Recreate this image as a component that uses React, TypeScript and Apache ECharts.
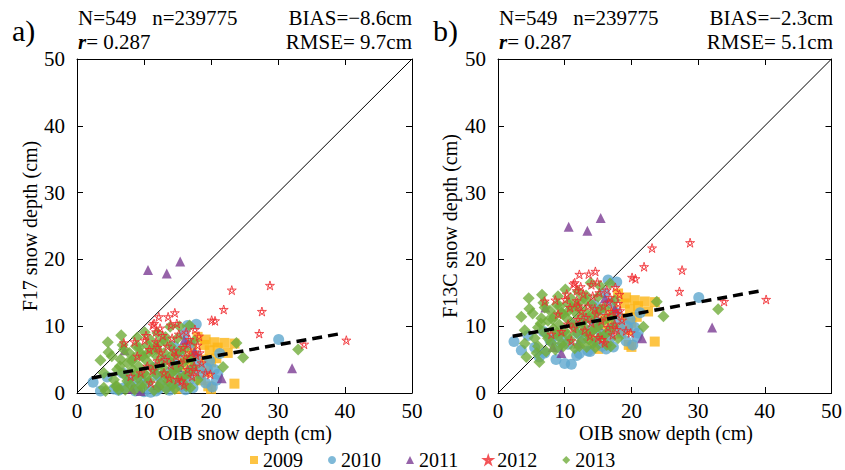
import React, { useEffect, useRef } from "react";
import * as echarts from "echarts";

// ---- data: OIB snow depth (x) vs F17 (panel a) and F13C (panel b) ----
const years = ["2009", "2010", "2011", "2012", "2013"];

const x2009 = [18.0, 19.2, 20.5, 22.0, 23.5, 19.8, 20.0, 19.5, 23.5, 20.0, 15.0, 16.5, 18.5, 17.5, 18.8, 16.8, 19.0, 21.0, 17.2, 15.8, 14.5, 18.2, 20.8, 16.0, 22.5, 19.6];
const f17_2009 = [8.4, 8.0, 7.6, 7.5, 7.4, 6.4, 4.6, 3.2, 1.4, 0.6, 0.6, 2.4, 1.9, 5.5, 5.0, 4.0, 7.2, 6.8, 6.5, 3.0, 1.5, 3.6, 5.2, 5.0, 6.0, 1.0];
const f13c_2009 = [14.9, 14.3, 13.9, 13.7, 13.6, 12.5, 10.5, 9.4, 7.7, 6.9, 6.6, 8.6, 8.9, 11.8, 11.2, 10.4, 13.4, 13.0, 12.6, 9.2, 7.8, 9.8, 11.4, 11.1, 12.2, 7.2];

const x2010 = [2.4, 17.8, 16.5, 21.3, 20.8, 17.3, 30.1, 19.4, 6.2, 8.7, 10.0, 11.0, 12.2, 13.5, 14.8, 16.2, 15.5, 14.0, 12.8, 18.5, 19.8, 17.0, 4.5, 6.8, 7.8, 9.5, 11.5, 13.2, 15.2, 16.8, 14.5, 21.0, 20.2, 5.5, 3.5, 9.0, 10.5, 12.0, 13.8, 15.6, 16.8, 18.0, 19.2, 14.5, 7.0, 17.8, 20.5, 11.8, 8.0, 16.0];
const f17_2010 = [1.6, 10.3, 10.1, 5.9, 1.9, 0.8, 8.0, 3.7, 0.4, 0.3, 0.2, 0.1, 0.6, 0.9, 1.5, 0.5, 2.6, 3.2, 2.0, 2.8, 4.8, 3.4, 2.4, 3.0, 1.6, 2.2, 3.8, 5.0, 6.0, 7.4, 7.0, 2.8, 0.9, 0.6, 0.3, 1.0, 1.5, 2.6, 0.4, 1.0, 2.0, 4.2, 1.5, 4.5, 0.8, 5.6, 3.5, 0.3, 2.5, 8.8];
const f13c_2010 = [7.7, 16.6, 16.9, 12.0, 8.4, 6.9, 14.3, 10.0, 5.4, 5.0, 4.4, 4.3, 5.9, 6.3, 7.6, 6.6, 8.8, 9.5, 8.2, 9.1, 11.0, 9.7, 8.6, 9.2, 7.9, 8.4, 10.2, 11.2, 12.4, 13.5, 13.2, 9.0, 7.2, 6.8, 6.4, 6.8, 7.3, 8.9, 6.2, 7.0, 8.2, 10.5, 7.8, 10.8, 6.0, 12.0, 9.8, 5.6, 8.0, 15.0];

const x2011 = [10.6, 13.4, 15.4, 32.1, 7.1, 21.6, 8.2, 9.5, 16.0, 15.0, 12.0, 17.5];
const f17_2011 = [18.4, 17.9, 19.7, 3.7, 6.4, 2.2, 0.6, 0.3, 7.9, 3.9, 1.2, 6.2];
const f13c_2011 = [24.9, 24.3, 26.2, 9.8, 12.8, 8.2, 6.9, 6.0, 14.2, 10.2, 7.4, 12.6];

const x2012 = [28.8, 23.1, 21.9, 27.6, 27.2, 20.1, 20.6, 33.9, 40.2, 14.6, 13.6, 12.2, 11.5, 7.0, 8.6, 16.3, 18.2, 19.2, 19.9, 10.1, 11.8, 11.3, 11.8, 14.0, 18.0, 17.8, 9.0, 10.5, 12.5, 13.5, 14.8, 15.5, 16.5, 17.2, 15.0, 13.0, 11.0, 12.0, 14.2, 15.8, 16.8, 17.5, 18.6, 9.5, 8.0, 10.8, 16.0, 14.0, 17.0, 12.8, 12.0, 13.2, 14.5, 15.2, 16.2, 17.8, 18.3, 16.6, 11.3, 13.8, 15.6, 12.4, 10.3, 17.6, 14.9];
const f17_2012 = [16.1, 15.4, 12.5, 12.2, 8.9, 10.9, 10.8, 7.3, 7.9, 12.0, 11.4, 11.4, 10.4, 7.5, 7.65, 9.1, 8.5, 3.0, 2.8, 7.9, 7.65, 10.15, 9.15, 10.15, 7.15, 5.65, 5.5, 4.0, 6.0, 7.0, 5.5, 4.5, 3.5, 2.5, 2.0, 3.0, 1.5, 4.8, 8.2, 6.8, 8.0, 4.0, 4.5, 3.0, 2.5, 6.5, 1.2, 4.2, 6.0, 8.6, 6.8, 5.0, 6.3, 8.8, 5.4, 3.2, 6.0, 7.3, 3.4, 2.2, 1.8, 9.7, 8.6, 9.5, 10.4];
const f13c_2012 = [22.5, 21.7, 18.9, 18.4, 15.2, 17.3, 17.1, 13.7, 14.0, 18.2, 17.8, 17.75, 16.5, 13.75, 13.9, 15.4, 14.75, 9.3, 9.0, 14.0, 13.8, 16.3, 15.3, 16.2, 13.4, 11.9, 11.8, 10.3, 12.2, 13.0, 11.8, 10.8, 9.8, 8.7, 8.3, 9.4, 7.8, 11.0, 14.5, 13.0, 14.3, 10.3, 10.9, 9.2, 8.8, 12.8, 7.5, 10.5, 12.2, 14.8, 13.0, 11.3, 12.6, 15.0, 11.6, 9.5, 12.3, 13.6, 9.7, 8.5, 8.0, 15.9, 14.8, 15.8, 16.6];

const x2013 = [6.6, 4.6, 4.7, 3.5, 4.0, 10.1, 13.9, 15.3, 16.8, 23.8, 24.8, 21.8, 33.0, 4.0, 4.25, 6.2, 5.5, 6.0, 6.5, 7.0, 7.5, 7.8, 8.0, 8.3, 8.5, 8.8, 9.0, 9.2, 9.5, 9.8, 10.0, 10.2, 10.5, 10.8, 11.0, 11.2, 11.5, 11.8, 12.0, 12.3, 12.5, 12.8, 13.0, 13.3, 13.5, 13.8, 14.0, 14.3, 14.5, 14.8, 15.0, 15.3, 15.6, 16.0, 16.3, 16.6, 17.0, 17.5, 18.0, 6.8, 5.2, 9.0, 12.0, 13.2, 7.2, 5.8,
  6.0, 7.0, 7.5, 8.2, 8.6, 9.3, 9.8, 10.4, 10.9, 11.4, 11.7, 12.2, 12.6, 13.1, 13.6, 14.1, 14.6, 15.1, 15.4, 15.9, 16.4, 16.9, 17.3, 8.8, 10.6, 12.9, 14.2, 9.6, 6.4, 11.9];
const f17_2013 = [8.65, 7.6, 6.1, 4.9, 3.0, 9.1, 9.9, 10.0, 10.1, 7.5, 5.3, 3.9, 6.5, 0.8, 0.3, 0.5, 2.0, 3.5, 5.0, 2.8, 4.5, 6.0, 1.2, 3.5, 5.2, 7.0, 2.2, 4.0, 6.0, 0.8, 3.0, 5.0, 7.2, 1.8, 4.2, 6.2, 0.4, 2.8, 5.4, 7.5, 1.5, 3.8, 6.0, 0.6, 2.5, 4.8, 7.0, 1.2, 3.4, 5.8, 8.2, 2.2, 4.3, 6.5, 1.0, 3.0, 5.2, 7.8, 2.0, 7.2, 5.5, 8.3, 9.0, 8.4, 0.5, 1.0,
  1.0, 6.5, 1.8, 4.8, 0.5, 6.8, 5.5, 2.5, 8.0, 3.5, 7.0, 0.9, 4.4, 7.8, 1.8, 5.6, 0.6, 3.8, 6.4, 2.4, 5.0, 0.8, 3.8, 2.8, 6.0, 2.9, 3.0, 1.2, 4.0, 6.6];
const f13c_2013 = [14.7, 14.2, 12.6, 11.4, 9.4, 15.5, 16.5, 16.0, 16.4, 13.65, 11.5, 9.9, 12.55, 7.4, 5.4, 4.65, 8.2, 9.8, 11.2, 9.0, 10.8, 12.3, 7.5, 9.6, 11.5, 13.2, 8.5, 10.2, 12.0, 7.0, 9.3, 11.3, 13.4, 8.0, 10.5, 12.5, 6.7, 9.0, 11.6, 13.7, 7.8, 10.0, 12.2, 6.9, 8.8, 11.1, 13.3, 7.5, 9.6, 12.0, 14.4, 8.4, 10.6, 12.7, 7.2, 9.3, 11.5, 13.9, 8.2, 13.5, 11.9, 14.5, 15.2, 14.6, 6.2, 6.0,
  7.0, 12.8, 8.2, 11.0, 6.5, 13.0, 11.8, 8.7, 14.2, 9.8, 13.2, 7.0, 10.6, 14.0, 8.0, 11.8, 6.8, 10.0, 12.6, 8.6, 11.2, 7.0, 10.0, 9.0, 12.3, 9.2, 9.3, 7.4, 10.4, 12.9];

// fitted regression lines and 1:1 line
const oneToOne = [[0, 0], [50, 50]];
const fitA = [[2.2, 2.25], [39.4, 8.9]];
const fitB = [[2.2, 8.5], [39.4, 15.3]];

const axisTicks = [0, 10, 20, 30, 40, 50];

const statsA = { N: "N=549", n: "n=239775", bias: "BIAS=−8.6cm", r: "0.287", rmse: "RMSE= 9.7cm" };
const statsB = { N: "N=549", n: "n=239775", bias: "BIAS=−2.3cm", r: "0.287", rmse: "RMSE= 5.1cm" };

const FONT = "Liberation Serif";

const STAR = "path://M10 0 L15.88 18.09 L0.49 6.91 L19.51 6.91 L4.12 18.09 Z";

const styles: Record<string, any> = {
  "2009": { symbol: "rect", symbolSize: 10, itemStyle: { color: "#FDB515" } },
  "2010": { symbol: "circle", symbolSize: 11, itemStyle: { color: "#5FA8CE" } },
  "2011": { symbol: "triangle", symbolSize: 10, itemStyle: { color: "#7C3C93" } },
  "2012": { symbol: STAR, symbolSize: 9, itemStyle: { color: "rgba(0,0,0,0)", borderColor: "#F0282D", borderWidth: 1 } },
  "2013": { symbol: "diamond", symbolSize: 12, itemStyle: { color: "#71AC3B" } },
};

const dataA: Record<string, number[][]> = {
  "2009": x2009.map((x, i) => [x, f17_2009[i]]),
  "2010": x2010.map((x, i) => [x, f17_2010[i]]),
  "2011": x2011.map((x, i) => [x, f17_2011[i]]),
  "2012": x2012.map((x, i) => [x, f17_2012[i]]),
  "2013": x2013.map((x, i) => [x, f17_2013[i]]),
};
const dataB: Record<string, number[][]> = {
  "2009": x2009.map((x, i) => [x, f13c_2009[i]]),
  "2010": x2010.map((x, i) => [x, f13c_2010[i]]),
  "2011": x2011.map((x, i) => [x, f13c_2011[i]]),
  "2012": x2012.map((x, i) => [x, f13c_2012[i]]),
  "2013": x2013.map((x, i) => [x, f13c_2013[i]]),
};

const drawOrder = ["2009", "2010", "2011", "2013", "2012"];

function axis(gridIndex: number, position: string, labels: boolean) {
  return {
    type: "value",
    gridIndex,
    position,
    min: axisTicks[0],
    max: axisTicks[axisTicks.length - 1],
    interval: 10,
    axisLine: { show: true, onZero: false, lineStyle: { color: "#000", width: 1 } },
    axisTick: { show: true, inside: true, length: 6, lineStyle: { color: "#000" } },
    axisLabel: {
      show: labels,
      fontFamily: FONT,
      fontSize: 21,
      color: "#000",
      margin: position === "left" ? 12 : 7,
    },
    splitLine: { show: false },
  };
}

function txt(x: number, y: number, text: string, align: string, extra: any = {}) {
  return {
    type: "text", x, y,
    style: { text, fontFamily: FONT, fontSize: 21, lineHeight: 21, fill: "#000", textAlign: align, textVerticalAlign: "middle", ...extra },
  };
}

function header(left: number, right: number, s: any, label: string) {
  return [
    { type: "text", x: left - 66, y: 30, style: { text: label, fontFamily: FONT, fontSize: 30, fill: "#000", textAlign: "left", textVerticalAlign: "middle" } },
    txt(left, 18, s.N + "   " + s.n, "left"),
    txt(right, 18, s.bias, "right"),
    txt(left, 42, "{i|r}= " + s.r, "left", {
      rich: { i: { fontStyle: "italic", fontWeight: "bold", fontFamily: FONT, fontSize: 21, lineHeight: 21 } },
    }),
    txt(right, 42, s.rmse, "right"),
  ];
}

export default function App() {
  const ref = useRef<HTMLDivElement>(null);
  useEffect(() => {
    if (!ref.current) return;
    const chart = echarts.init(ref.current, undefined, { renderer: "svg" });
    const scatter: any[] = [];
    [0, 1].forEach((g) => {
      const src = g === 0 ? dataA : dataB;
      drawOrder.forEach((y) => {
        scatter.push({
          type: "scatter",
          name: y,
          xAxisIndex: g,
          yAxisIndex: g,
          data: src[y],
          ...styles[y],
        });
      });
    });
    const lines: any[] = [];
    [0, 1].forEach((g) => {
      lines.push({
        type: "line", xAxisIndex: g, yAxisIndex: g, data: oneToOne, symbol: "none", silent: true,
        lineStyle: { color: "#000", width: 1 }, z: 1,
      });
      lines.push({
        type: "line", xAxisIndex: g, yAxisIndex: g, data: g === 0 ? fitA : fitB, symbol: "none", silent: true,
        lineStyle: { color: "#000", width: 3.5, type: [10, 6] }, z: 5,
      });
    });
    chart.setOption({
      animation: false,
      backgroundColor: "#fff",
      grid: [
        { left: 77, top: 59, width: 335, height: 334 },
        { left: 498, top: 59, width: 335, height: 334 },
      ],
      xAxis: [axis(0, "bottom", true), axis(1, "bottom", true), axis(0, "top", false), axis(1, "top", false)],
      yAxis: [axis(0, "left", true), axis(1, "left", true), axis(0, "right", false), axis(1, "right", false)],
      legend: {
        data: years,
        left: 250,
        top: 450,
        itemWidth: 8,
        itemHeight: 8,
        itemGap: 25,
        padding: 0,
        textStyle: { fontFamily: FONT, fontSize: 20, lineHeight: 18, color: "#000" },
      },
      graphic: [
        ...header(78, 412, statsA, "a)"),
        ...header(499, 833, statsB, "b)"),
        { type: "text", x: 245, y: 433, style: { text: "OIB snow depth (cm)", fontFamily: FONT, fontSize: 20, fill: "#000", textAlign: "center", textVerticalAlign: "middle" } },
        { type: "text", x: 666, y: 433, style: { text: "OIB snow depth (cm)", fontFamily: FONT, fontSize: 20, fill: "#000", textAlign: "center", textVerticalAlign: "middle" } },
        { type: "text", x: 30, y: 226, rotation: Math.PI / 2, style: { text: "F17 snow depth (cm)", fontFamily: FONT, fontSize: 20, fill: "#000", textAlign: "center", textVerticalAlign: "middle" } },
        { type: "text", x: 450, y: 226, rotation: Math.PI / 2, style: { text: "F13C snow depth (cm)", fontFamily: FONT, fontSize: 20, fill: "#000", textAlign: "center", textVerticalAlign: "middle" } },
      ],
      series: [...lines, ...scatter],
    });
    return () => chart.dispose();
  }, []);
  return <div ref={ref} style={{ width: 845, height: 470, position: "absolute", left: 0, top: 0 }} />;
}
